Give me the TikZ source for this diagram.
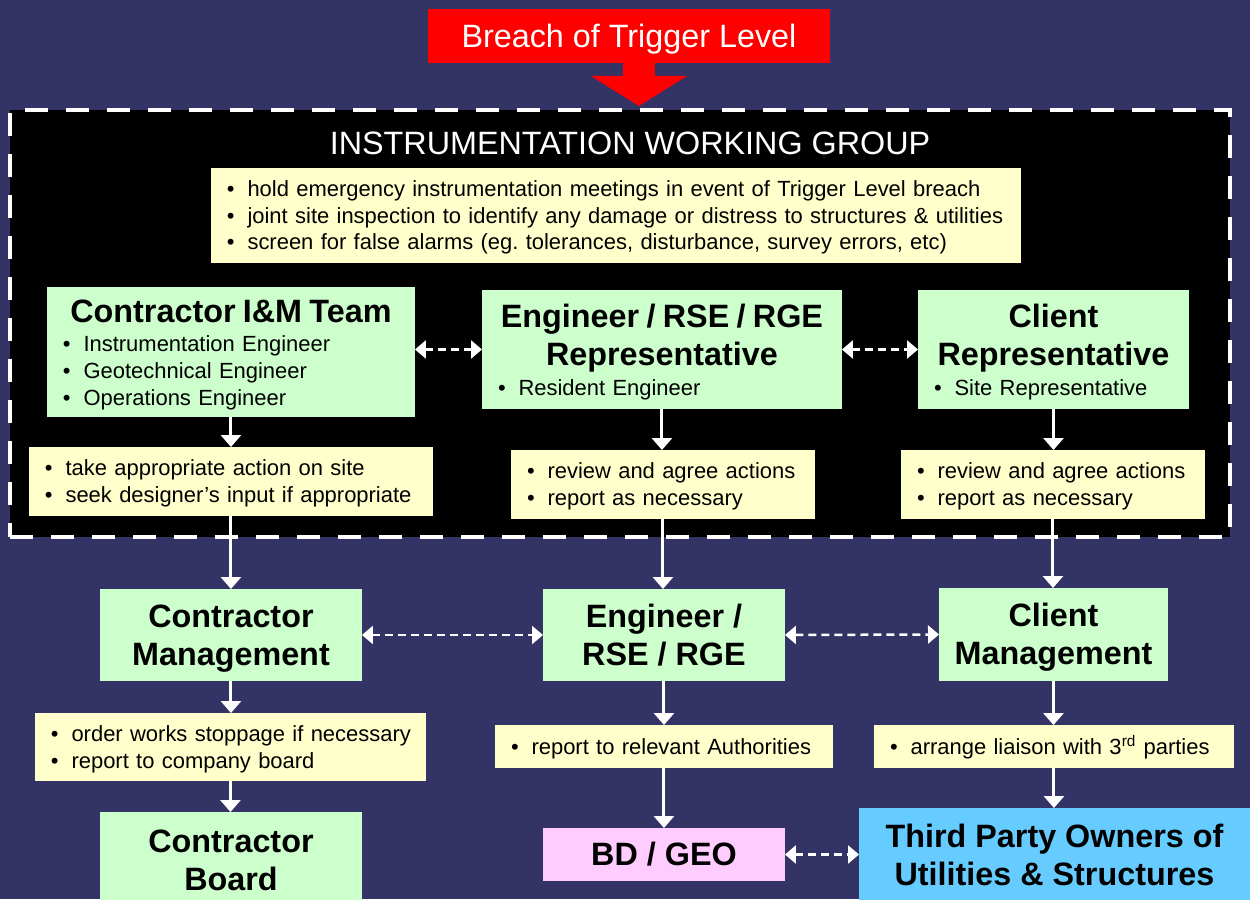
\documentclass[tikz,border=0pt]{standalone}
\usepackage{fontspec}
\setmainfont{Liberation Sans}
\usetikzlibrary{arrows.meta,calc}

\definecolor{bgnavy}{RGB}{51,51,102}
\definecolor{boxgreen}{HTML}{CCFFCC}
\definecolor{boxyellow}{HTML}{FFFFCC}
\definecolor{boxpink}{HTML}{FFCCFF}
\definecolor{boxblue}{HTML}{66CCFF}

\newcommand\bodysize{\fontsize{12.5pt}{15.3pt}\selectfont\frenchspacing}
\newcommand\headsize{\fontsize{18.4pt}{21.6pt}\selectfont\bfseries}
% uniform line box: font ascent and descent
\newcommand\lstrut{\rule[-0.212em]{0pt}{1.117em}}
\newcommand\bitem[1]{\mbox{\lstrut\makebox[11.7pt][l]{\textbullet}#1}}
\newcommand\htitle[1]{\makebox[\linewidth]{\headsize\lstrut #1}}

\begin{document}
\begin{tikzpicture}[x=0.02cm,y=-0.02cm,
  box/.style={draw=none, inner sep=0pt, outer sep=0pt, anchor=north west},
  redbox/.style={box, fill=red, text=white, font=\fontsize{18.4pt}{21.6pt}\selectfont},
  frame/.style={box, fill=black, draw=white, line width=0.08cm,
                dash pattern=on 0.46cm off 0.36cm},
  ybox/.style={box, fill=boxyellow, align=left, font=\bodysize},
  gbox/.style={box, fill=boxgreen, align=left, font=\bodysize},
  hbox/.style={box, align=center, font=\headsize},
  flow/.style={draw=white, line width=0.06cm,
               -{Triangle[width=0.4cm,length=0.24cm]}},
  link/.style={draw=white, line width=0.05cm, dash pattern=on 0.16cm off 0.1cm,
               {Triangle[width=0.36cm,length=0.22cm]}-{Triangle[width=0.36cm,length=0.22cm]}}
]
\useasboundingbox (0,0) rectangle (1250,899);
\clip (0,0) rectangle (1250,899);
\fill[bgnavy] (0,0) rectangle (1250,899);

% trigger and working group frame
\node[redbox, minimum width=8.04cm, minimum height=1.08cm] (breach) at (428,9)
  {\lstrut Breach of Trigger Level};
\node[frame, minimum width=24.4cm, minimum height=8.54cm] (iwg) at (10,110) {};
\fill[red] ([xshift=-0.12cm]breach.south) -- ++(0,13) -- ++(-32,0) -- ++(48,30)
  -- ++(48,-30) -- ++(-32,0) -- ++(0,-13) -- cycle;
\node[text=white, font=\fontsize{18.4pt}{21.6pt}\selectfont] (iwgtitle) at (630,143)
  {INSTRUMENTATION WORKING GROUP};

\node[ybox, minimum width=16.2cm, minimum height=1.9cm, text width=15.56cm] (duties) at (211,168)
  {\bitem{hold emergency instrumentation meetings in event of Trigger Level breach}\\
   \bitem{joint site inspection to identify any damage or distress to structures \& utilities}\\
   \bitem{screen for false alarms (eg. tolerances, disturbance, survey errors, etc)}};

% representatives
\node[gbox, minimum width=7.36cm, minimum height=2.6cm, text width=6.72cm] (cim) at (47,287)
  {\htitle{Contractor I\&M Team}\\[1.3pt]
   \bitem{Instrumentation Engineer}\\
   \bitem{Geotechnical Engineer}\\
   \bitem{Operations Engineer}};
\node[gbox, minimum width=7.2cm, minimum height=2.38cm, text width=6.56cm] (er) at (482,290)
  {\htitle{Engineer / RSE / RGE}\\
   \htitle{Representative}\\[1.9pt]
   \bitem{Resident Engineer}};
\node[gbox, minimum width=5.42cm, minimum height=2.38cm, text width=4.78cm] (cr) at (918,290)
  {\htitle{Client}\\
   \htitle{Representative}\\[1.9pt]
   \bitem{Site Representative}};

% actions within the group
\node[ybox, minimum width=8.08cm, minimum height=1.38cm, text width=7.44cm] (cimact) at (29,447)
  {\bitem{take appropriate action on site}\\
   \bitem{seek designer’s input if appropriate}};
\node[ybox, minimum width=6.08cm, minimum height=1.38cm, text width=5.44cm] (eract) at (511,450)
  {\bitem{review and agree actions}\\
   \bitem{report as necessary}};
\node[ybox, minimum width=6.08cm, minimum height=1.38cm, text width=5.44cm] (cract) at (901,450)
  {\bitem{review and agree actions}\\
   \bitem{report as necessary}};

% management level
\node[hbox, fill=boxgreen, minimum width=5.24cm, minimum height=1.84cm] (cm) at (100,589)
  {\lstrut Contractor\\\lstrut Management};
\node[hbox, fill=boxgreen, minimum width=4.84cm, minimum height=1.84cm] (em) at (543,589)
  {\lstrut Engineer /\\\lstrut RSE / RGE};
\node[hbox, fill=boxgreen, minimum width=4.58cm, minimum height=1.86cm] (clm) at (939,588)
  {\lstrut Client\\\lstrut Management};

\node[ybox, minimum width=7.82cm, minimum height=1.36cm, text width=7.18cm] (cmact) at (35,713)
  {\bitem{order works stoppage if necessary}\\
   \bitem{report to company board}};
\node[ybox, minimum width=6.76cm, minimum height=0.86cm, text width=6.12cm] (emact) at (495,725)
  {\bitem{report to relevant Authorities}};
\node[ybox, minimum width=7.2cm, minimum height=0.86cm, text width=6.56cm] (clmact) at (874,725)
  {\bitem{arrange liaison with 3\textsuperscript{rd} parties}};

% final recipients
\node[hbox, fill=boxgreen, minimum width=5.24cm, minimum height=1.92cm] (cb) at (100,812)
  {\lstrut Contractor\\\lstrut Board};
\node[hbox, fill=boxpink, minimum width=4.84cm, minimum height=1.06cm] (bd) at (543,828)
  {\lstrut BD / GEO};
\node[hbox, fill=boxblue, minimum width=7.82cm, minimum height=1.88cm] (tp) at (859,808)
  {\lstrut Third Party Owners of\\\lstrut Utilities \& Structures};

% downward flow
\draw[flow] (cim.south) -- (cim.south |- cimact.north);
\draw[flow] (er.south) -- (er.south |- eract.north);
\draw[flow] (cr.south) -- (cr.south |- cract.north);
\draw[flow] (cimact.south) -- (cimact.south |- cm.north);
\draw[flow] (eract.south) -- (eract.south |- em.north);
\draw[flow] (cract.south) -- (cract.south |- clm.north);
\draw[flow] (cm.south) -- (cm.south |- cmact.north);
\draw[flow] (em.south) -- (em.south |- emact.north);
\draw[flow] (clm.south) -- (clm.south |- clmact.north);
\draw[flow] (cmact.south) -- (cmact.south |- cb.north);
\draw[flow] (emact.south) -- (emact.south |- bd.north);
\draw[flow] (clmact.south) -- (clmact.south |- tp.north);

% two-way liaison
\draw[link] (cim.east |- er.west) -- (er.west);
\draw[link] (er.east) -- (cr.west);
\draw[link] (cm.east) -- (em.west);
\draw[link] (em.east) -- (clm.west);
\draw[link] (bd.east) -- (bd.east -| tp.west);
\end{tikzpicture}
\end{document}
